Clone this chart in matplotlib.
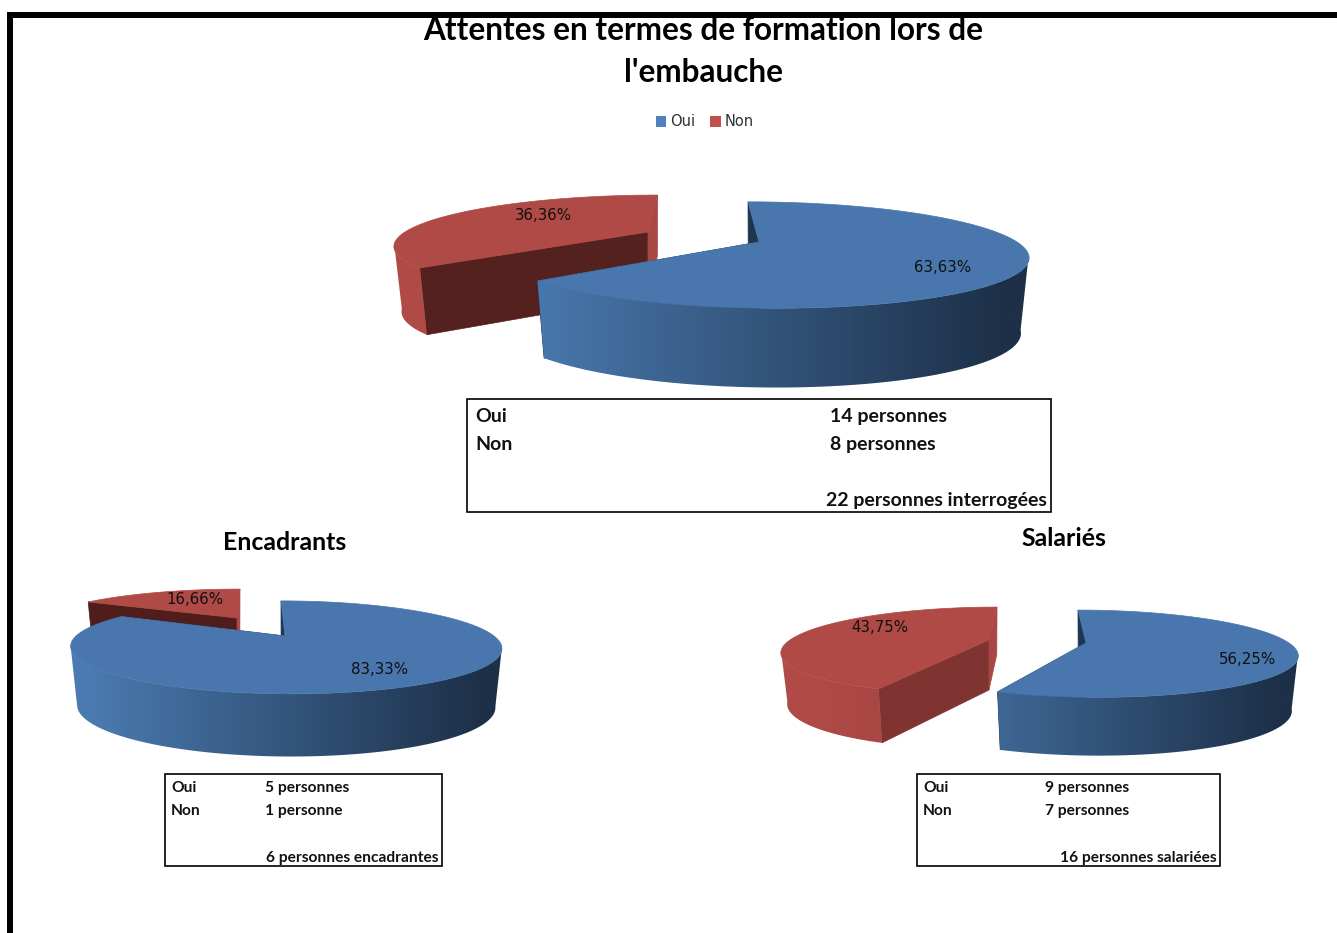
import numpy as np
import matplotlib
matplotlib.use('Agg')
import matplotlib.pyplot as plt
from matplotlib.colors import to_rgb
from matplotlib.patches import Patch, Polygon, Rectangle

CATEGORIES = ['Oui', 'Non']
ALL_VALUES = [14, 8]
ENC_VALUES = [5, 1]
SAL_VALUES = [9, 7]
ALL_LABELS = ['63,63%', '36,36%']
ENC_LABELS = ['83,33%', '16,66%']
SAL_LABELS = ['56,25%', '43,75%']

BLUE = '#4876ad'
RED = '#b04a46'
FONT = 'Lato'
PERSP = 0.245
BOTTOM_X = 0.97
BOTTOM_Y = 1.08


def rim(theta, apex, rx, ry, sx):
    u = np.sin(theta)
    v = -np.cos(theta)
    w = 1 - PERSP * v
    return apex[0] + (rx * u + sx * v) / w, apex[1] + ry * v / w


def rim_low(theta, apex, rx, ry, sx, drop):
    # same circle, seen on the bottom plane of the slice
    x, y = rim(theta, apex, rx, ry, sx)
    return apex[0] + (x - apex[0]) * BOTTOM_X, apex[1] + drop + (y - apex[1]) * BOTTOM_Y


def draw_slice(ax, share0, share1, apex, rx, ry, sx, drop, top, wall0, wall1, face0, face1, z):
    t0 = 2 * np.pi * share0
    t1 = 2 * np.pi * share1
    # faces on the two cut edges
    for th, col in ((t0, face0), (t1, face1)):
        pts = [rim(th, apex, rx, ry, sx), apex, (apex[0], apex[1] + drop),
               rim_low(th, apex, rx, ry, sx, drop)]
        ax.add_patch(Polygon(pts, closed=True, fc=col, ec=col, lw=0.5, zorder=z))
    ths = np.linspace(t0, t1, 300)
    # outer wall: horizontal gradient clipped to the part facing us
    front = ths[-np.cos(ths) > PERSP]
    if len(front) > 1:
        xt, yt = rim(front, apex, rx, ry, sx)
        xb, yb = rim_low(front, apex, rx, ry, sx, drop)
        pts = np.column_stack([np.r_[xt, xb[::-1]], np.r_[yt, yb[::-1]]])
        pos = np.clip((np.linspace(0, 1, 256) - 0.08) / 0.85, 0, 1)[None, :, None]
        grad = np.array(to_rgb(wall0))[None, None, :] * (1 - pos) + np.array(to_rgb(wall1))[None, None, :] * pos
        im = ax.imshow(grad, extent=(apex[0] - rx * 1.1, apex[0] + rx * 1.1, 933, 0), aspect='auto',
                       zorder=z + 0.1, interpolation='bilinear')
        im.set_clip_path(Polygon(pts, closed=True, transform=ax.transData))
    # top surface
    xs, ys = rim(ths, apex, rx, ry, sx)
    ax.add_patch(Polygon([apex] + list(zip(xs, ys)), closed=True, fc=top, ec=top, lw=0.5, zorder=z + 0.2))


def draw_pie(ax, values, blue_geo, red_geo, red_face):
    share = values[0] / sum(values)
    draw_slice(ax, share, 1.0, *red_geo, RED, '#b04a47', '#8c3b38', red_face, '#a94744', 2)
    draw_slice(ax, 0.0, share, *blue_geo, BLUE, '#4a7ab0', '#1d3048', '#1f3550', '#1f3550', 3)


fig = plt.figure(figsize=(13.37, 9.33), dpi=100)
ax = fig.add_axes([0, 0, 1, 1])
ax.axis('off')

# apex, rx, ry, shear, depth
draw_pie(ax, ALL_VALUES, ((759, 242), 258, 50, 13.7, 74), ((648, 232), 243, 46, -12, 64), '#55211f')
draw_pie(ax, ENC_VALUES, ((285, 636), 209, 43.7, 5, 58), ((237, 618), 195, 36, -3.7, 46), '#4f1d1b')
draw_pie(ax, SAL_VALUES, ((1086, 643), 203, 41, 10, 54), ((989, 640), 199, 41, -10, 50), '#7f3432')

ax.set_xlim(0, 1337)
ax.set_ylim(933, 0)

# percentage labels
for (x, y), s in zip([(943, 268), (543, 216), (380, 670), (195, 599), (1247, 659), (880, 627)],
                     ALL_LABELS + ENC_LABELS + SAL_LABELS):
    ax.text(x, y, s, ha='center', va='center', fontsize=10.8, color='#101010', zorder=20)

# titles
ax.text(703, 31, 'Attentes en termes de formation lors de', ha='center', va='center',
        fontsize=22.7, fontweight='bold', family=FONT, color='black', zorder=20)
ax.text(703, 72, "l'embauche", ha='center', va='center',
        fontsize=22.7, fontweight='bold', family=FONT, color='black', zorder=20)
ax.text(285, 542, 'Encadrants', ha='center', va='center', fontsize=17.9, fontweight='bold', family=FONT)
ax.text(1064, 539, 'Salariés', ha='center', va='center', fontsize=17.9, fontweight='bold', family=FONT)

# legend
handles = [Patch(fc='#4f81bd', label=CATEGORIES[0]), Patch(fc='#c0504d', label=CATEGORIES[1])]
ax.legend(handles=handles, ncol=2, loc='center', bbox_to_anchor=(705 / 1337, 1 - 122 / 933),
          frameon=False, handlelength=0.7, handleheight=0.7, columnspacing=1.0,
          handletextpad=0.3, prop={'size': 10.5}, labelcolor='#303030')

# text boxes
boxes = [
    (467, 399, 1051, 512, 14, 6,
     [(475, 416, 'Oui'), (830, 416, '14 personnes'), (475, 444, 'Non'), (830, 444, '8 personnes'),
      (826, 500, '22 personnes interrogées')]),
    (165, 774, 442, 866, 11.2, 5,
     [(171, 787, 'Oui'), (265, 787, '5 personnes'), (171, 810, 'Non'), (265, 810, '1 personne'),
      (266, 857, '6 personnes encadrantes')]),
    (917, 774, 1220, 866, 11.2, 5,
     [(923, 787, 'Oui'), (1045, 787, '9 personnes'), (923, 810, 'Non'), (1045, 810, '7 personnes'),
      (1060, 857, '16 personnes salariées')]),
]
for x0, y0, x1, y1, size, base, rows in boxes:
    ax.add_patch(Rectangle((x0, y0), x1 - x0, y1 - y0, fc='white', ec='black', lw=1.2, zorder=5))
    for x, y, s in rows:
        ax.text(x, y + base, s, ha='left', va='baseline', fontsize=size, fontweight='bold',
                family=FONT, color='#111111', zorder=6)

# black page frame, it cuts the top of the title
ax.add_patch(Rectangle((7, 12), 1330, 6, fc='black', ec='none', zorder=30))
ax.add_patch(Rectangle((7, 12), 6, 921, fc='black', ec='none', zorder=30))

fig.savefig('out.png', dpi=100)
